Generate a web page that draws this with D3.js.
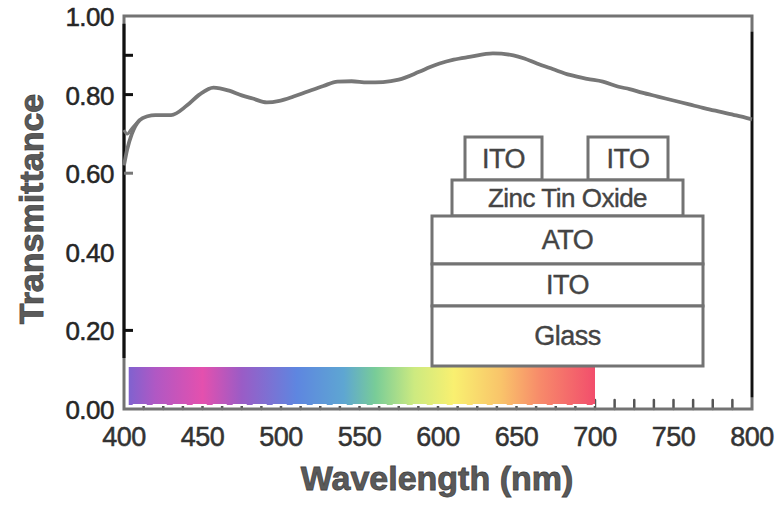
<!DOCTYPE html>
<html>
<head>
<meta charset="utf-8">
<script src="https://cdn.jsdelivr.net/npm/d3@7"></script>
<style>
  body { margin: 0; background: #fff; }
  svg { display: block; font-family: "Liberation Sans", Arial, Helvetica, sans-serif; }
</style>
</head>
<body>
<svg id="chart" width="777" height="509"></svg>
<script>
// transmittance spectrum
var wavelength = [400, 402, 405, 410, 415, 420, 430, 440, 448, 457, 467, 475, 482, 491, 499,
    508, 517, 527, 536, 545, 555, 565, 575, 588, 595, 601, 610, 620, 635, 648, 655,
    663, 673, 684, 695, 705, 715, 722, 730, 740, 750, 760, 770, 780, 790, 800];
var transmittance = [0.62, 0.66, 0.70, 0.735, 0.745, 0.748, 0.748, 0.772, 0.80, 0.818, 0.81, 0.798, 0.79, 0.78, 0.784,
    0.795, 0.808, 0.822, 0.833, 0.834, 0.831, 0.832, 0.838, 0.858, 0.87, 0.879, 0.889, 0.896, 0.905, 0.90, 0.892,
    0.879, 0.865, 0.85, 0.84, 0.833, 0.82, 0.814, 0.805, 0.795, 0.785, 0.775, 0.765, 0.756, 0.747, 0.737];
// short second trace at the start of the scan
var branchWl = [400, 402, 405, 410];
var branchT = [0.71, 0.70, 0.714, 0.736];

var xTicks = [400, 450, 500, 550, 600, 650, 700, 750, 800];
var yTicks = [0.00, 0.20, 0.40, 0.60, 0.80, 1.00];
var yTickMarks = [0.2, 0.6, 0.8, 0.9];
var xMinorStep = 12.5;

// visible spectrum strip
var specStops = [403, 420, 450, 475, 510, 540, 560, 585, 610, 640, 665, 700];
var specColors = ['#8062cf', '#b058c4', '#e450ae', '#9a5cc6', '#5e86e0', '#5ea6d2', '#78cc98',
    '#cdea80', '#f9f070', '#f9c46a', '#f78a6a', '#f24e6c'];

var layers = ['ITO', 'ITO', 'Zinc Tin Oxide', 'ATO', 'ITO', 'Glass'];

var svg = d3.select('#chart');
var x = d3.scaleLinear().domain([400, 800]).range([124, 752]);
var y = d3.scaleLinear().domain([0, 1]).range([409, 16]);

var frameGray = '#737373';

// minor ticks along the bottom (behind the strip)
var minor = d3.range(400 + xMinorStep, 800, xMinorStep);
svg.append('g').selectAll('line').data(minor).enter().append('line')
    .attr('x1', function(d) { return x(d); })
    .attr('x2', function(d) { return x(d); })
    .attr('y1', y(0))
    .attr('y2', y(0) - 9)
    .attr('stroke', '#555')
    .attr('stroke-width', 2.5)
    .attr('stroke-linecap', 'round');

// spectrum strip
var grad = svg.append('defs').append('linearGradient')
    .attr('id', 'spec')
    .attr('gradientUnits', 'userSpaceOnUse')
    .attr('x1', x(specStops[0])).attr('x2', x(specStops[specStops.length - 1]))
    .attr('y1', 0).attr('y2', 0);
grad.selectAll('stop').data(specStops).enter().append('stop')
    .attr('offset', function(d) { return (d - specStops[0]) / (specStops[specStops.length - 1] - specStops[0]); })
    .attr('stop-color', function(d, i) { return specColors[i]; });

svg.append('rect')
    .attr('x', x(specStops[0]))
    .attr('y', 367)
    .attr('width', x(700) - x(specStops[0]))
    .attr('height', 38)
    .attr('fill', 'url(#spec)');
svg.append('line')
    .attr('x1', x(specStops[0]) + 4).attr('x2', x(700))
    .attr('y1', 405).attr('y2', 405)
    .attr('stroke', '#fff')
    .attr('stroke-width', 2)
    .attr('stroke-dasharray', '14 6');

// frame
svg.append('rect')
    .attr('x', x(400)).attr('y', y(1))
    .attr('width', x(800) - x(400)).attr('height', y(0) - y(1))
    .attr('fill', 'none')
    .attr('stroke', frameGray)
    .attr('stroke-width', 3);
svg.append('line')
    .attr('x1', x(400)).attr('x2', x(400))
    .attr('y1', y(0.98)).attr('y2', y(0.13))
    .attr('stroke', '#111').attr('stroke-width', 3);
svg.append('line')
    .attr('x1', x(800)).attr('x2', x(800))
    .attr('y1', y(0.96)).attr('y2', y(0.03))
    .attr('stroke', '#111').attr('stroke-width', 2.5);

// y tick marks
svg.append('g').selectAll('line').data(yTickMarks).enter().append('line')
    .attr('x1', x(400)).attr('x2', x(400) + 9)
    .attr('y1', function(d) { return y(d); })
    .attr('y2', function(d) { return y(d); })
    .attr('stroke', function(d) { return d === 0.6 ? '#777' : '#111'; })
    .attr('stroke-width', 3);

// tick labels
svg.append('g').selectAll('text').data(yTicks).enter().append('text')
    .attr('x', 114)
    .attr('y', function(d) { return y(d) + 10; })
    .attr('text-anchor', 'end')
    .attr('font-size', 26)
    .attr('fill', '#262626')
    .attr('stroke', '#262626').attr('stroke-width', 0.5)
    .attr('letter-spacing', -0.5)
    .text(function(d) { return d.toFixed(2); });

svg.append('g').selectAll('text').data(xTicks).enter().append('text')
    .attr('x', function(d) { return x(d); })
    .attr('y', 446)
    .attr('text-anchor', 'middle')
    .attr('font-size', 27)
    .attr('fill', '#333')
    .attr('stroke', '#333').attr('stroke-width', 0.5)
    .attr('letter-spacing', -0.5)
    .text(function(d) { return d; });

// axis titles
svg.append('text')
    .attr('transform', 'translate(43,209) rotate(-90)')
    .attr('text-anchor', 'middle')
    .attr('font-size', 34)
    .attr('font-weight', 'bold')
    .attr('fill', '#5a5a5a')
    .attr('stroke', '#444').attr('stroke-width', 0.8)
    .text('Transmittance');
svg.append('text')
    .attr('x', 437).attr('y', 490)
    .attr('text-anchor', 'middle')
    .attr('font-size', 34)
    .attr('font-weight', 'bold')
    .attr('fill', '#5a5a5a')
    .attr('stroke', '#444').attr('stroke-width', 0.8)
    .text('Wavelength (nm)');

// curves
var line = d3.line()
    .x(function(d) { return x(d[0]); })
    .y(function(d) { return y(d[1]); })
    .curve(d3.curveMonotoneX);
svg.append('path')
    .datum(d3.zip(branchWl, branchT))
    .attr('d', line)
    .attr('fill', 'none')
    .attr('stroke', '#7a7a7a')
    .attr('stroke-width', 3);
svg.append('path')
    .datum(d3.zip(wavelength, transmittance))
    .attr('d', line)
    .attr('fill', 'none')
    .attr('stroke', '#777')
    .attr('stroke-width', 3.8)
    .attr('stroke-linejoin', 'round');

// device stack inset
var boxes = [
    {x0: 465, x1: 542, y0: 137, y1: 180},
    {x0: 588, x1: 668, y0: 137, y1: 180},
    {x0: 452, x1: 683, y0: 180, y1: 216},
    {x0: 432, x1: 703, y0: 216, y1: 264},
    {x0: 432, x1: 703, y0: 264, y1: 306},
    {x0: 432, x1: 703, y0: 306, y1: 366}
];
var inset = svg.append('g');
var cells = inset.selectAll('g').data(boxes).enter().append('g');
cells.append('rect')
    .attr('x', function(d) { return d.x0; })
    .attr('y', function(d) { return d.y0; })
    .attr('width', function(d) { return d.x1 - d.x0; })
    .attr('height', function(d) { return d.y1 - d.y0; })
    .attr('fill', '#fff')
    .attr('stroke', frameGray)
    .attr('stroke-width', 3);
cells.append('text')
    .attr('x', function(d) { return (d.x0 + d.x1) / 2; })
    .attr('y', function(d) { return (d.y0 + d.y1) / 2 + 9; })
    .attr('text-anchor', 'middle')
    .attr('font-size', function(d, i) { return i === 2 ? 26 : 27; })
    .attr('fill', '#444')
    .attr('stroke', '#444').attr('stroke-width', 0.4)
    .attr('letter-spacing', -0.5)
    .text(function(d, i) { return layers[i]; });
</script>
</body>
</html>
